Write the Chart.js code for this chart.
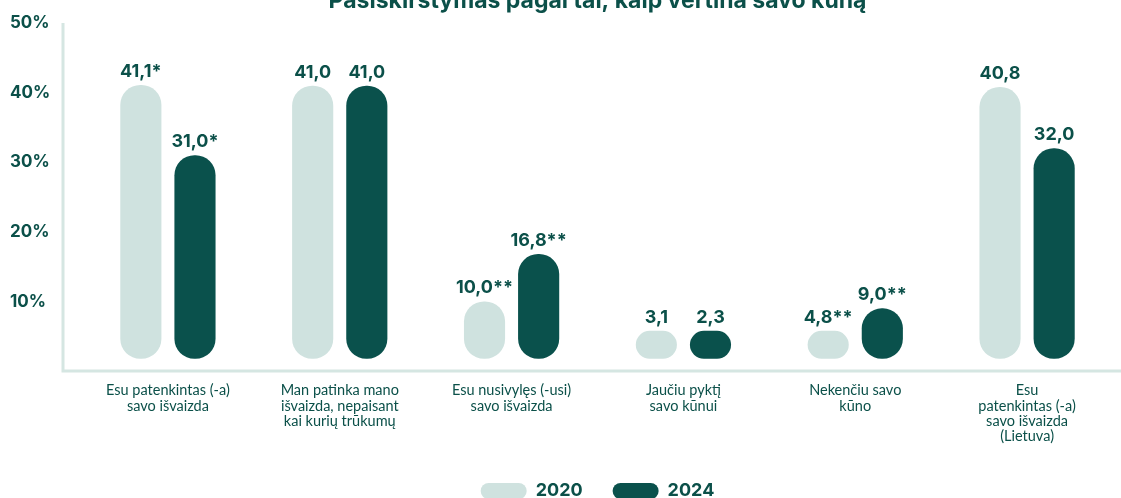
<!DOCTYPE html>
<html>
<head>
<meta charset="utf-8">
<script src="https://cdn.jsdelivr.net/npm/chart.js@4/dist/chart.umd.min.js"></script>
<style>
  html, body { margin: 0; padding: 0; background: #fff; }
  #wrap { position: relative; width: 1121px; height: 498px; }
</style>
</head>
<body>
<div id="wrap"><canvas id="bodyChart"></canvas></div>
<script>
const title = "Pasiskirstymas pagal tai, kaip vertina savo kūną";
const categories = [
  ["Esu patenkintas (-a)", "savo išvaizda"],
  ["Man patinka mano", "išvaizda, nepaisant", "kai kurių trūkumų"],
  ["Esu nusivylęs (-usi)", "savo išvaizda"],
  ["Jaučiu pyktį", "savo kūnui"],
  ["Nekenčiu savo", "kūno"],
  ["Esu", "patenkintas (-a)", "savo išvaizda", "(Lietuva)"]
];
const values2020 = [41.1, 41.0, 10.0, 3.1, 4.8, 40.8];
const values2024 = [31.0, 41.0, 16.8, 2.3, 9.0, 32.0];
const marks2020 = ["*", "", "**", "", "**", ""];
const marks2024 = ["*", "", "**", "", "**", ""];
const yTicks = [10, 20, 30, 40, 50];

const dark = "#0a514c";
const light = "#cfe2df";
const textColor = "#0b5049";

// axis lines sit a bit away from the bars, like in the original
const axisLines = {
  id: "axisLines",
  beforeDatasetsDraw(chart) {
    const { ctx, chartArea } = chart;
    const y0 = chart.scales.y.getPixelForValue(0);
    const x0 = chartArea.left - 19;
    ctx.save();
    ctx.strokeStyle = "#d5e6e2";
    ctx.lineWidth = 3;
    ctx.beginPath();
    ctx.moveTo(x0, chartArea.top);
    ctx.lineTo(x0, y0);
    ctx.lineTo(chart.width, y0);
    ctx.stroke();
    ctx.restore();
  }
};

const valueLabels = {
  id: "valueLabels",
  afterDatasetsDraw(chart) {
    const { ctx } = chart;
    const marks = [marks2020, marks2024];
    ctx.save();
    ctx.fillStyle = textColor;
    ctx.font = "bold 18px Inter";
    ctx.textAlign = "center";
    ctx.textBaseline = "alphabetic";
    chart.data.datasets.forEach((ds, i) => {
      chart.getDatasetMeta(i).data.forEach((bar, j) => {
        const txt = ds.data[j].toFixed(1).replace(".", ",") + marks[i][j];
        ctx.fillText(txt, bar.x, bar.y - 8);
      });
    });
    ctx.restore();
  }
};

const topTitle = {
  id: "topTitle",
  afterDraw(chart) {
    const { ctx, chartArea } = chart;
    ctx.save();
    ctx.fillStyle = textColor;
    ctx.font = "bold 23px Inter";
    ctx.textAlign = "center";
    ctx.textBaseline = "alphabetic";
    ctx.fillText(title, (chartArea.left + chartArea.right) / 2, 8);
    ctx.restore();
  }
};

new Chart(document.getElementById("bodyChart"), {
  type: "bar",
  data: {
    labels: categories,
    datasets: [
      {
        label: "2020",
        data: values2020,
        backgroundColor: light,
        borderRadius: 20,
        borderSkipped: false,
        base: 1.75,
        minBarLength: 28
      },
      {
        label: "2024",
        data: values2024,
        backgroundColor: dark,
        borderRadius: 20,
        borderSkipped: false,
        base: 1.75,
        minBarLength: 28
      }
    ]
  },
  options: {
    responsive: true,
    maintainAspectRatio: false,
    animation: false,
    categoryPercentage: 0.63,
    barPercentage: 0.76,
    layout: { padding: { top: 23, left: 10, right: 8, bottom: -12 } },
    plugins: {
      title: { display: false },
      tooltip: { enabled: false },
      legend: {
        position: "bottom",
        fullSize: false,
        labels: {
          color: textColor,
          font: { family: "Inter", size: 18, weight: "bold" },
          boxWidth: 46,
          boxHeight: 16,
          useBorderRadius: true,
          borderRadius: 8,
          padding: 30
        }
      }
    },
    scales: {
      x: {
        grid: { display: false },
        border: { display: false },
        ticks: {
          color: textColor,
          font: { family: "Lato", size: 14.5, lineHeight: 1.05 },
          padding: 4,
          maxRotation: 0,
          autoSkip: false
        },
        afterFit(scale) { scale.height = 81; }
      },
      y: {
        min: 0,
        max: 50,
        grid: { display: false },
        border: { display: false },
        afterFit(scale) { scale.width = 72; },
        afterBuildTicks(scale) { scale.ticks = yTicks.map(v => ({ value: v })); },
        ticks: {
          color: textColor,
          crossAlign: "far",
          font: { family: "Inter", size: 17, weight: "bold" },
          callback: v => v + "%"
        }
      }
    }
  },
  plugins: [axisLines, valueLabels, topTitle]
});
</script>
</body>
</html>
